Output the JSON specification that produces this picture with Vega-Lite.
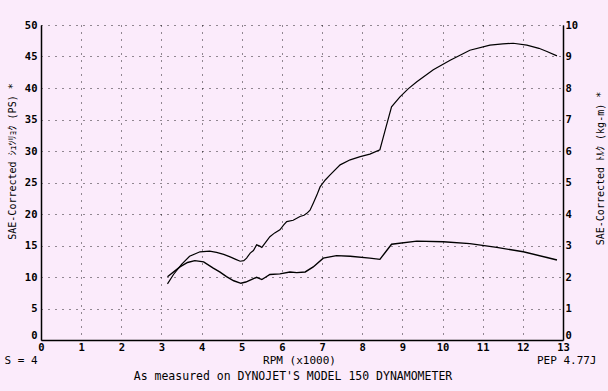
{
  "$schema": "https://vega.github.io/schema/vega-lite/v6.json",
  "autosize": {"type": "none"},
  "width": 522,
  "height": 315,
  "padding": {"left": 41, "top": 25, "right": 45, "bottom": 51},
  "background": "#fbebfb",
  "config": {
    "view": {"stroke": null},
    "font": "DejaVu Sans Mono, Noto Sans CJK JP",
    "axis": {
      "domainColor": "#000",
      "domainWidth": 1.5,
      "ticks": false,
      "labelFont": "DejaVu Sans Mono",
      "labelFontSize": 11,
      "labelFontWeight": "bold",
      "labelColor": "#000",
      "titleFont": "DejaVu Sans Mono, Noto Sans CJK JP",
      "titleFontSize": 10,
      "titleFontWeight": "normal",
      "titleColor": "#000",
      "gridColor": "#000",
      "gridDash": [1, 6],
      "gridOpacity": 0.85,
      "gridWidth": 1
    }
  },
  "title": {
    "text": "As measured on DYNOJET'S MODEL 150 DYNAMOMETER",
    "orient": "bottom",
    "anchor": "middle",
    "frame": "group",
    "offset": 6,
    "dx": -9,
    "font": "DejaVu Sans Mono",
    "fontSize": 11.5,
    "fontWeight": "normal",
    "color": "#000"
  },
  "datasets": {
    "power": [
      {"rpm": 3.15, "ps": 8.9}, {"rpm": 3.3, "ps": 10.4}, {"rpm": 3.5, "ps": 12.0}, {"rpm": 3.7, "ps": 13.3},
      {"rpm": 3.96, "ps": 14.0}, {"rpm": 4.2, "ps": 14.1}, {"rpm": 4.37, "ps": 13.9}, {"rpm": 4.55, "ps": 13.6},
      {"rpm": 4.71, "ps": 13.2}, {"rpm": 4.85, "ps": 12.8}, {"rpm": 4.96, "ps": 12.5}, {"rpm": 5.05, "ps": 12.6},
      {"rpm": 5.12, "ps": 13.0}, {"rpm": 5.21, "ps": 13.8}, {"rpm": 5.29, "ps": 14.2}, {"rpm": 5.37, "ps": 15.1},
      {"rpm": 5.45, "ps": 14.9}, {"rpm": 5.5, "ps": 14.7}, {"rpm": 5.57, "ps": 15.3}, {"rpm": 5.7, "ps": 16.4},
      {"rpm": 5.82, "ps": 17.0}, {"rpm": 5.95, "ps": 17.5}, {"rpm": 6.05, "ps": 18.3}, {"rpm": 6.12, "ps": 18.8},
      {"rpm": 6.28, "ps": 19.0}, {"rpm": 6.45, "ps": 19.6}, {"rpm": 6.55, "ps": 19.8}, {"rpm": 6.62, "ps": 20.1},
      {"rpm": 6.7, "ps": 20.6}, {"rpm": 6.78, "ps": 21.7}, {"rpm": 6.87, "ps": 23.0}, {"rpm": 6.95, "ps": 24.3},
      {"rpm": 7.08, "ps": 25.4}, {"rpm": 7.2, "ps": 26.2}, {"rpm": 7.45, "ps": 27.8}, {"rpm": 7.7, "ps": 28.6},
      {"rpm": 7.95, "ps": 29.1}, {"rpm": 8.19, "ps": 29.5}, {"rpm": 8.44, "ps": 30.2}, {"rpm": 8.58, "ps": 33.5},
      {"rpm": 8.73, "ps": 37.0}, {"rpm": 8.94, "ps": 38.6}, {"rpm": 9.15, "ps": 39.9}, {"rpm": 9.36, "ps": 41.0},
      {"rpm": 9.77, "ps": 42.9}, {"rpm": 10.19, "ps": 44.4}, {"rpm": 10.68, "ps": 46.0}, {"rpm": 11.18, "ps": 46.8},
      {"rpm": 11.5, "ps": 47.0}, {"rpm": 11.76, "ps": 47.1}, {"rpm": 12.1, "ps": 46.8}, {"rpm": 12.4, "ps": 46.3},
      {"rpm": 12.6, "ps": 45.8}, {"rpm": 12.85, "ps": 45.1}
    ],
    "torque": [
      {"rpm": 3.15, "kgm": 2.01}, {"rpm": 3.46, "kgm": 2.32}, {"rpm": 3.65, "kgm": 2.46}, {"rpm": 3.83, "kgm": 2.52},
      {"rpm": 4.05, "kgm": 2.48}, {"rpm": 4.29, "kgm": 2.28}, {"rpm": 4.45, "kgm": 2.16}, {"rpm": 4.62, "kgm": 2.01},
      {"rpm": 4.8, "kgm": 1.88}, {"rpm": 4.98, "kgm": 1.8}, {"rpm": 5.1, "kgm": 1.84}, {"rpm": 5.21, "kgm": 1.9},
      {"rpm": 5.37, "kgm": 1.99}, {"rpm": 5.5, "kgm": 1.92}, {"rpm": 5.6, "kgm": 2.0}, {"rpm": 5.7, "kgm": 2.08},
      {"rpm": 5.95, "kgm": 2.1}, {"rpm": 6.2, "kgm": 2.16}, {"rpm": 6.37, "kgm": 2.14}, {"rpm": 6.58, "kgm": 2.16},
      {"rpm": 6.78, "kgm": 2.32}, {"rpm": 7.03, "kgm": 2.6}, {"rpm": 7.36, "kgm": 2.68}, {"rpm": 7.7, "kgm": 2.66},
      {"rpm": 8.19, "kgm": 2.6}, {"rpm": 8.44, "kgm": 2.56}, {"rpm": 8.73, "kgm": 3.04}, {"rpm": 9.36, "kgm": 3.14},
      {"rpm": 10.02, "kgm": 3.12}, {"rpm": 10.68, "kgm": 3.06}, {"rpm": 11.35, "kgm": 2.94}, {"rpm": 12.01, "kgm": 2.8},
      {"rpm": 12.6, "kgm": 2.62}, {"rpm": 12.85, "kgm": 2.54}
    ]
  },
  "layer": [
    {
      "data": {"name": "power"},
      "mark": {"type": "line", "color": "#000", "strokeWidth": 1.2},
      "encoding": {
        "x": {
          "field": "rpm", "type": "quantitative",
          "scale": {"domain": [0, 13], "nice": false, "zero": false},
          "axis": {
            "orient": "bottom",
            "values": [0,1,2,3,4,5,6,7,8,9,10,11,12,13],
            "grid": true,
            "labelPadding": 2,
            "labelFontSize": 10.5,
            "labelFlush": false,
            "title": "RPM (x1000)",
            "titleFontSize": 11,
            "titleX": 258, "titleY": 20,
            "titleAlign": "center", "titleBaseline": "middle"
          }
        },
        "y": {
          "field": "ps", "type": "quantitative",
          "scale": {"domain": [0, 50], "nice": false},
          "axis": {
            "orient": "left",
            "values": [0,5,10,15,20,25,30,35,40,45,50],
            "grid": true,
            "labelPadding": 4,
            "labelFontSize": 10.5,
            "labelBaseline": {"condition": {"test": "datum.value === 0", "value": "bottom"}, "value": "middle"},
            "title": "SAE-Corrected ｼｭﾂﾘｮｸ (PS)   *",
            "titleAngle": -90,
            "titleX": -29, "titleY": 136,
            "titleAlign": "center", "titleBaseline": "middle"
          }
        }
      }
    },
    {
      "data": {"name": "torque"},
      "mark": {"type": "line", "color": "#000", "strokeWidth": 1.4},
      "encoding": {
        "x": {
          "field": "rpm", "type": "quantitative",
          "scale": {"domain": [0, 13], "nice": false, "zero": false},
          "axis": {
            "orient": "bottom",
            "labels": false, "domain": false, "grid": false,
            "title": "S = 4",
            "titleFontSize": 11,
            "titleX": -37, "titleY": 20,
            "titleAlign": "left", "titleBaseline": "middle"
          }
        },
        "y": {
          "field": "kgm", "type": "quantitative",
          "scale": {"domain": [0, 10], "nice": false},
          "axis": {
            "orient": "right",
            "values": [0,1,2,3,4,5,6,7,8,9,10],
            "grid": false,
            "labelPadding": 2,
            "labelFontSize": 10.5,
            "labelBaseline": {"condition": {"test": "datum.value === 0", "value": "bottom"}, "value": "middle"},
            "title": "SAE-Corrected ﾄﾙｸ (kg-m)    *",
            "titleAngle": -90,
            "titleX": 37, "titleY": 143,
            "titleAlign": "center", "titleBaseline": "middle"
          }
        }
      }
    },
    {
      "data": {"name": "power"},
      "mark": {"type": "line", "opacity": 0},
      "encoding": {
        "x": {
          "field": "rpm", "type": "quantitative",
          "scale": {"domain": [0, 13], "nice": false, "zero": false},
          "axis": {
            "orient": "bottom",
            "labels": false, "domain": false, "grid": false,
            "title": "PEP 4.77J",
            "titleFontSize": 11,
            "titleX": 555, "titleY": 20,
            "titleAlign": "right", "titleBaseline": "middle"
          }
        },
        "y": {
          "field": "ps", "type": "quantitative",
          "scale": {"domain": [0, 50], "nice": false},
          "axis": null
        }
      }
    }
  ],
  "resolve": {
    "scale": {"x": "independent", "y": "independent"},
    "axis": {"x": "independent", "y": "independent"}
  }
}
